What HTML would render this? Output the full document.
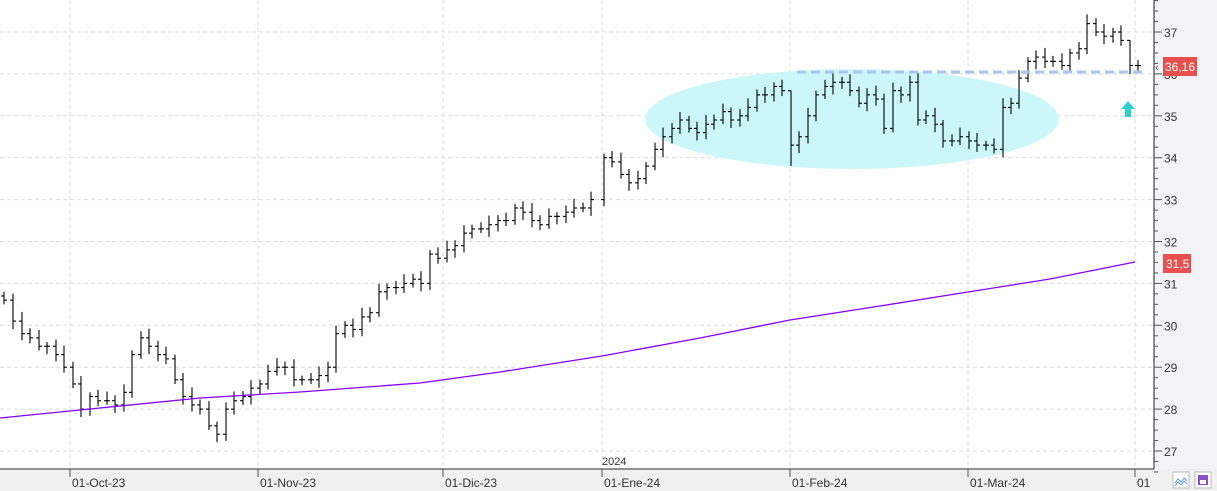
<!DOCTYPE html>
<html><head><meta charset="utf-8"><style>
html,body{margin:0;padding:0;background:#fff;}
svg{display:block;font-family:"Liberation Sans",sans-serif;}
</style></head><body>
<svg id="s" width="1217" height="491" viewBox="0 0 1217 491" xmlns="http://www.w3.org/2000/svg">
<rect x="0" y="0" width="1217" height="491" fill="#fff"/>
<rect x="1154" y="0" width="63" height="491" fill="#f3f3f5"/>
<rect x="0" y="469" width="1217" height="22" fill="#f0f0f0"/>
<g id="grid" stroke="#dcdcdc" stroke-dasharray="4,3" stroke-width="1"></g>
<ellipse cx="852" cy="119" rx="207" ry="50" fill="#ccf7fa"/>
<g id="bars" stroke="#000" stroke-width="1.1"></g>
<polyline fill="none" stroke="#8a00ff" stroke-width="1.3" points="0,418 100,408 200,398 300,392 420,383 500,372 602,356 700,338 790,320 880,306 968,292 1050,279 1135,262"/>
<line x1="797" y1="72" x2="1146" y2="72" stroke="#a8c6ee" stroke-width="3" stroke-dasharray="9,5"/>
<polygon points="1128,101 1135,109 1131,109 1131,117 1125,117 1125,109 1121,109" fill="#2fd0d0"/>
<line x1="1154" y1="0" x2="1154" y2="469" stroke="#555" stroke-width="1.3"/>
<line x1="0" y1="469" x2="1154" y2="469" stroke="#555" stroke-width="1.3"/>
<g id="yax" font-size="12" fill="#333"></g>
<g id="xax" font-size="12" fill="#333"></g>
<rect x="1163" y="57" width="34" height="19" fill="#e85050"/>
<text x="1165" y="71" font-size="12" fill="#fff">36,16</text>
<text x="1155" y="71" font-size="11" fill="#555">‹</text>
<rect x="1163" y="254" width="28" height="19" fill="#e85050"/>
<text x="1166" y="268" font-size="12" fill="#fff">31,5</text>
<text x="602" y="465" font-size="11" fill="#333">2024</text>
<rect x="1173" y="472" width="16" height="16" fill="#fff" stroke="#bbb"/>
<path d="M1175,483 l3,-4 3,3 3,-4 3,3 M1175,486 l3,-4 3,3 3,-4 3,3" stroke="#5a9ad8" fill="none"/>
<rect x="1195" y="472" width="16" height="16" fill="#fff" stroke="#bbb"/>
<rect x="1198" y="475" width="10" height="10" fill="#8a4fc8"/>
<rect x="1200" y="480" width="6" height="4" fill="#fff"/>
</svg>
<script>
var NS="http://www.w3.org/2000/svg";
function Y(p){return 32+(37-p)*41.9;}
function el(par,t,a,txt){var e=document.createElementNS(NS,t);for(var k in a)e.setAttribute(k,a[k]);if(txt)e.textContent=txt;document.getElementById(par).appendChild(e);return e;}
for(var p=27;p<=37;p++){el("grid","line",{x1:0,x2:1154,y1:Y(p),y2:Y(p)});
 el("yax","text",{x:1164,y:Y(p)+5},""+p);}
for(var p=26.5;p<=37.75;p+=0.25){var l=(Math.abs(p-Math.round(p))<0.01)?8:4;el("yax","line",{x1:1154,x2:1154+l,y1:Y(p),y2:Y(p),stroke:"#555"});}
var xs=[[70,"01-Oct-23"],[258,"01-Nov-23"],[443,"01-Dic-23"],[602,"01-Ene-24"],[790,"01-Feb-24"],[968,"01-Mar-24"],[1135,"01"]];
xs.forEach(function(v){el("grid","line",{x1:v[0],x2:v[0],y1:0,y2:469});
 el("xax","line",{x1:v[0],x2:v[0],y1:469,y2:477,stroke:"#555"});
 el("xax","text",{x:v[0]+2,y:487},v[1]);});
var d=[[4,30.6],[13,30.1],[22,29.8],[30,29.7],[39,29.5],[47,29.5],[56,29.3],[64,29.0],[73,28.6],[81,28.0],[90,28.3],[98,28.2],[107,28.2],[115,28.1],[124,28.4],[132,29.3],[141,29.7],[149,29.5],[158,29.3],[166,29.2],[175,28.7],[183,28.3],[192,28.1],[200,28.0],[209,27.6],[217,27.4],[226,28.0],[234,28.2],[243,28.3],[251,28.5],[260,28.6],[268,28.9],[277,29.0],[285,29.0],[294,28.7],[302,28.7],[311,28.7],[319,28.8],[328,29.0],[336,29.8],[345,30.0],[353,29.9],[362,30.2],[370,30.3],[379,30.8],[387,30.9],[396,30.9],[404,31.0],[413,31.1],[421,31.0],[430,31.7],[438,31.6],[447,31.8],[455,31.9],[464,32.2],[472,32.3],[481,32.3],[489,32.4],[498,32.5],[506,32.5],[515,32.8],[523,32.7],[532,32.5],[540,32.4],[549,32.6],[557,32.6],[566,32.7],[574,32.8],[583,32.8],[591,33.0],[604,34.0],[612,33.9],[621,33.6],[629,33.4],[638,33.5],[646,33.8],[655,34.2],[663,34.5],[672,34.7],[680,34.9],[689,34.7],[697,34.6],[706,34.8],[714,34.9],[723,35.1],[731,34.9],[740,35.0],[748,35.2],[757,35.5],[765,35.5],[774,35.7],[782,35.6],[791,34.3],[799,34.5],[808,35.0],[816,35.5],[825,35.7],[833,35.8],[842,35.8],[850,35.6],[859,35.3],[867,35.5],[876,35.4],[884,34.7],[893,35.6],[901,35.5],[910,35.8],[918,34.9],[926,35.0],[935,34.8],[943,34.4],[952,34.4],[960,34.5],[969,34.4],[977,34.3],[986,34.3],[994,34.2],[1003,35.2],[1011,35.3],[1019,35.9],[1028,36.3],[1036,36.4],[1045,36.3],[1053,36.3],[1062,36.2],[1070,36.5],[1079,36.6],[1087,37.2],[1096,37.0],[1104,36.9],[1113,37.0],[1121,36.8],[1130,36.2],[1138,36.2]];
var prev=d[0][1]+0.1;
d.forEach(function(b,i){var x=b[0],c=b[1],o=prev;
 var h=Math.max(o,c)+0.1+((i*7)%5)*0.03,l=Math.min(o,c)-0.1-((i*3)%4)*0.03;
 if(x==791){h=35.6;l=33.8;} if(x==1130){h=36.8;l=36.0;}
 el("bars","line",{x1:x,x2:x,y1:Y(h),y2:Y(l)});
 el("bars","line",{x1:x-3,x2:x,y1:Y(o),y2:Y(o)});
 el("bars","line",{x1:x,x2:x+3,y1:Y(c),y2:Y(c)});
 prev=c;});
</script>
</body></html>
